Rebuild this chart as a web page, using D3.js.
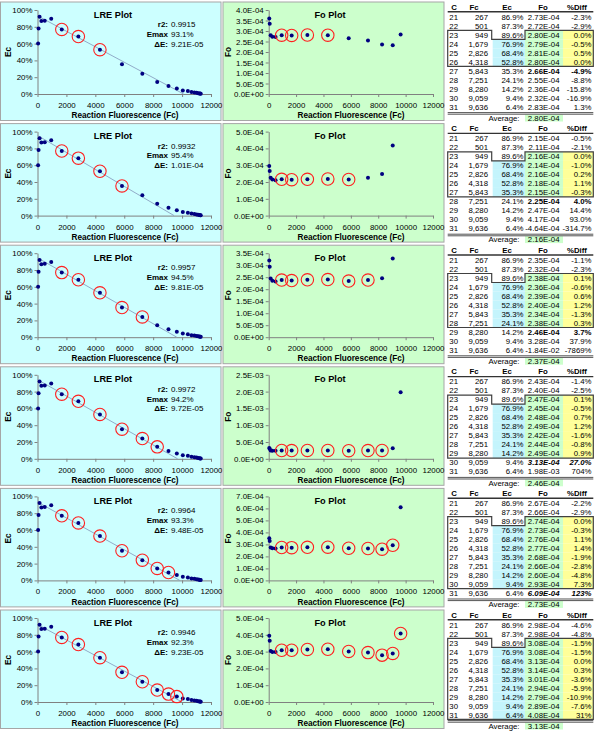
<!DOCTYPE html>
<html>
<head>
<meta charset="utf-8">
<script src="https://cdn.jsdelivr.net/npm/d3@7"></script>
<style>
  body { margin: 0; background: #fff; }
  svg { display: block; font-family: "Liberation Sans", Arial, sans-serif; }
</style>
</head>
<body>
<svg id="chart" width="600" height="733"></svg>
<script>
// cycles shown in the tables
var cycles = [21, 22, 23, 24, 25, 26, 27, 28, 29, 30, 31];
var fc = [267, 501, 949, 1679, 2826, 4318, 5843, 7251, 8280, 9059, 9636];
var ec = [0.869, 0.873, 0.896, 0.769, 0.684, 0.528, 0.353, 0.241, 0.142, 0.094, 0.064];

// cycles before 21 and after 31 (only plotted)
var fcEarly = [42, 74, 143];
var ecEarly = [0.60, 0.78, 0.92];
var fcLate = [10050, 10400, 10650, 10850, 11000, 11110, 11190, 11250, 11290];
var ecLate = [0.043, 0.035, 0.024, 0.019, 0.014, 0.010, 0.007, 0.005, 0.004];

// one entry per row of panels
var r2 = ["0.9915", "0.9932", "0.9957", "0.9972", "0.9964", "0.9946"];
var emax = [0.931, 0.954, 0.945, 0.942, 0.933, 0.923];
var deltaE = [9.21e-5, 1.01e-4, 9.81e-5, 9.72e-5, 9.48e-5, 9.23e-5];
var windowEnd = [26, 27, 28, 29, 30, 31];
var foMax = [4e-4, 5e-4, 3.5e-4, 2.5e-3, 7e-4, 5e-4];
var foStep = [5e-5, 1e-4, 5e-5, 5e-4, 1e-4, 1e-4];
var foAverage = [2.80e-4, 2.16e-4, 2.37e-4, 2.46e-4, 2.73e-4, 3.13e-4];
var italicRow = [false, false, false, true, true, false];

var foEarly = [
  [3.60e-4, 3.35e-4, 2.80e-4],
  [2.95e-4, 2.65e-4, 2.25e-4],
  [3.20e-4, 2.94e-4, 2.45e-4],
  [3.20e-4, 2.98e-4, 2.50e-4],
  [3.52e-4, 3.28e-4, 2.74e-4],
  [3.94e-4, 3.64e-4, 3.04e-4]
];

var foRows = [
  [2.73e-4, 2.72e-4, 2.80e-4, 2.79e-4, 2.81e-4, 2.80e-4, 2.66e-4, 2.55e-4, 2.36e-4, 2.32e-4, 2.83e-4],
  [2.15e-4, 2.11e-4, 2.16e-4, 2.14e-4, 2.16e-4, 2.18e-4, 2.15e-4, 2.25e-4, 2.47e-4, 4.17e-4, -4.64e-4],
  [2.35e-4, 2.32e-4, 2.38e-4, 2.36e-4, 2.39e-4, 2.40e-4, 2.34e-4, 2.38e-4, 2.46e-4, 3.28e-4, -1.84e-2],
  [2.43e-4, 2.40e-4, 2.47e-4, 2.45e-4, 2.48e-4, 2.49e-4, 2.42e-4, 2.44e-4, 2.49e-4, 3.13e-4, 1.98e-3],
  [2.67e-4, 2.66e-4, 2.74e-4, 2.73e-4, 2.76e-4, 2.77e-4, 2.68e-4, 2.66e-4, 2.60e-4, 2.93e-4, 6.09e-4],
  [2.98e-4, 2.98e-4, 3.08e-4, 3.08e-4, 3.13e-4, 3.14e-4, 3.01e-4, 2.94e-4, 2.79e-4, 2.89e-4, 4.08e-4]
];

var diffRows = [
  ["-2.3%", "-2.9%", "0.0%", "-0.5%", "0.5%", "0.0%", "-4.9%", "-8.8%", "-15.8%", "-16.9%", "1.3%"],
  ["-0.5%", "-2.1%", "0.0%", "-1.0%", "0.2%", "1.1%", "-0.3%", "4.0%", "14.4%", "93.0%", "-314.7%"],
  ["-1.1%", "-2.3%", "0.1%", "-0.6%", "0.6%", "1.2%", "-1.3%", "0.3%", "3.7%", "37.9%", "-7869%"],
  ["-1.4%", "-2.5%", "0.1%", "-0.5%", "0.7%", "1.2%", "-1.6%", "-0.8%", "0.9%", "27.0%", "704%"],
  ["-2.2%", "-2.9%", "0.0%", "-0.3%", "1.1%", "1.4%", "-1.9%", "-2.8%", "-4.8%", "7.3%", "123%"],
  ["-4.6%", "-4.8%", "-1.5%", "-1.5%", "0.0%", "0.3%", "-3.6%", "-5.9%", "-10.9%", "-7.6%", "31%"]
];

var svg = d3.select("#chart");
var rowH = 121.6;
var font = 7.9;

var lreX = d3.scaleLinear().domain([0, 12000]).range([37.5, 211]);
var foX = d3.scaleLinear().domain([0, 12000]).range([268.7, 433]);
var lreY = d3.scaleLinear().domain([0, 1]).range([94, 10]);

function sci(v, d) {
  return v.toExponential(d).toUpperCase().replace(/E([+-])(\d+)$/, function (m, s, e) {
    return "E" + s + (e.length < 2 ? "0" + e : e);
  });
}

function styleAxis(g) {
  g.selectAll("path,line").attr("stroke", "#808080");
  g.selectAll("text").attr("fill", "#000").style("font-size", font + "px")
    .style("font-family", "'Liberation Sans', Arial, sans-serif");
}

var fcAll = fcEarly.concat(fc, fcLate);
var ecAll = ecEarly.concat(ec, ecLate);

for (var k = 0; k < 6; k++) {
  drawRow(k);
}

function drawRow(k) {
  var g = svg.append("g").attr("transform", "translate(0," + (k * rowH) + ")");
  var endIdx = cycles.indexOf(windowEnd[k]);

  // ---------- LRE panel ----------
  g.append("rect").attr("x", 0.5).attr("y", 2).attr("width", 220.5).attr("height", 118.5)
    .attr("fill", "#ccffff").attr("stroke", "#a6a6a6");

  g.append("g").attr("transform", "translate(0,94)")
    .call(d3.axisBottom(lreX).tickValues(d3.range(0, 12001, 2000)).tickFormat(d3.format("d"))
      .tickSize(3).tickSizeOuter(0).tickPadding(5.5))
    .call(styleAxis);
  g.append("g").attr("transform", "translate(37.5,0)")
    .call(d3.axisLeft(lreY).tickValues(d3.range(0, 1.01, 0.2)).tickFormat(d3.format(".0%"))
      .tickSize(3).tickSizeOuter(0).tickPadding(2))
    .call(styleAxis);

  var zeroFc = emax[k] / deltaE[k];
  g.append("line")
    .attr("x1", lreX(0)).attr("y1", lreY(emax[k]))
    .attr("x2", lreX(zeroFc)).attr("y2", lreY(0))
    .attr("stroke", "#8aa2c2").attr("stroke-width", 0.9);

  g.append("g").selectAll("circle").data(d3.range(fcAll.length)).enter().append("circle")
    .attr("cx", function (i) { return lreX(fcAll[i]); })
    .attr("cy", function (i) { return lreY(ecAll[i]); })
    .attr("r", 2).attr("fill", "#000080");

  var lreWin = d3.range(cycles.indexOf(24), endIdx + 1);
  g.append("g").selectAll("circle").data(lreWin).enter().append("circle")
    .attr("cx", function (i) { return lreX(fc[i]); })
    .attr("cy", function (i) { return lreY(ec[i]); })
    .attr("r", 6.2).attr("fill", "none").attr("stroke", "#ff2020").attr("stroke-width", 1.1);

  g.append("text").attr("x", 113).attr("y", 17.5).attr("text-anchor", "middle")
    .style("font-size", "9.2px").style("font-weight", "bold").text("LRE Plot");
  g.append("text").attr("x", 125).attr("y", 118.2).attr("text-anchor", "middle")
    .style("font-size", "8.2px").style("font-weight", "bold").text("Reaction Fluorescence (Fc)");
  g.append("text").attr("transform", "translate(11,52) rotate(-90)").attr("text-anchor", "middle")
    .style("font-size", "8.2px").style("font-weight", "bold").text("Ec");

  var statLabels = ["r2:", "Emax", "\u0394E:"];
  var statValues = [r2[k], d3.format(".1%")(emax[k]), sci(deltaE[k], 2)];
  statLabels.forEach(function (s, i) {
    g.append("text").attr("x", 168).attr("y", 27 + i * 9.8).attr("text-anchor", "end")
      .style("font-size", "8px").style("font-weight", "bold").text(s);
    g.append("text").attr("x", 171).attr("y", 27 + i * 9.8)
      .style("font-size", "8px").text(statValues[i]);
  });

  // ---------- Fo panel ----------
  g.append("rect").attr("x", 223).attr("y", 2).attr("width", 221).attr("height", 118.5)
    .attr("fill", "#ccffcc").attr("stroke", "#a6a6a6");

  var foY = d3.scaleLinear().domain([0, foMax[k]]).range([94, 10]);

  g.append("g").attr("transform", "translate(0,94)")
    .call(d3.axisBottom(foX).tickValues(d3.range(0, 12001, 2000)).tickFormat(d3.format("d"))
      .tickSize(3).tickSizeOuter(0).tickPadding(5.5))
    .call(styleAxis);
  g.append("g").attr("transform", "translate(268.7,0)")
    .call(d3.axisLeft(foY).tickValues(d3.range(0, foMax[k] + foStep[k] / 2, foStep[k]))
      .tickFormat(function (v) { return sci(v, 1); })
      .tickSize(3).tickSizeOuter(0).tickPadding(2))
    .call(styleAxis);

  var foFc = fcEarly.concat(fc);
  var foVal = foEarly[k].concat(foRows[k]);
  var visible = d3.range(foFc.length).filter(function (i) {
    return foVal[i] >= 0 && foVal[i] <= foMax[k];
  });
  g.append("g").selectAll("circle").data(visible).enter().append("circle")
    .attr("cx", function (i) { return foX(foFc[i]); })
    .attr("cy", function (i) { return foY(foVal[i]); })
    .attr("r", 2).attr("fill", "#000080");

  var foWin = d3.range(cycles.indexOf(23), endIdx + 1);
  g.append("g").selectAll("circle").data(foWin).enter().append("circle")
    .attr("cx", function (i) { return foX(fc[i]); })
    .attr("cy", function (i) { return foY(foRows[k][i]); })
    .attr("r", 6.2).attr("fill", "none").attr("stroke", "#ff2020").attr("stroke-width", 1.1);

  g.append("text").attr("x", 330).attr("y", 17.5).attr("text-anchor", "middle")
    .style("font-size", "9.2px").style("font-weight", "bold").text("Fo Plot");
  g.append("text").attr("x", 351).attr("y", 118.2).attr("text-anchor", "middle")
    .style("font-size", "8.2px").style("font-weight", "bold").text("Reaction Fluorescence (Fc)");
  g.append("text").attr("transform", "translate(231,52) rotate(-90)").attr("text-anchor", "middle")
    .style("font-size", "8.2px").style("font-weight", "bold").text("Fo");

  // ---------- table ----------
  var tx = [447.7, 491.7, 525, 563, 593.3];
  var rowTop = function (i) { return 12.3 + 9 * i; };
  var base = function (i) { return 16.8 + 9 * i + 2.7; };
  var t = g.append("g").style("font-size", "7.8px");

  // highlighted cells
  t.selectAll("rect.ec").data(lreWin).enter().append("rect")
    .attr("x", tx[1] + 1).attr("y", function (i) { return rowTop(i); })
    .attr("width", tx[2] - tx[1] - 1).attr("height", 9).attr("fill", "#c4f4fc");
  t.selectAll("rect.fo").data(foWin).enter().append("rect")
    .attr("x", tx[2]).attr("y", function (i) { return rowTop(i); })
    .attr("width", tx[3] - tx[2]).attr("height", 9).attr("fill", "#ccffcc");
  t.selectAll("rect.df").data(foWin).enter().append("rect")
    .attr("x", tx[3]).attr("y", function (i) { return rowTop(i); })
    .attr("width", tx[4] - tx[3]).attr("height", 9).attr("fill", "#ffff99");
  t.append("rect").attr("x", tx[2]).attr("y", 114.5).attr("width", tx[3] - tx[2]).attr("height", 7)
    .attr("fill", "#ccffcc");

  // header
  var heads = ["C", "Fc", "Ec", "Fo", "%Diff"];
  var headX = [454, 474, 507, 543, 577];
  heads.forEach(function (h, i) {
    t.append("text").attr("x", headX[i]).attr("y", 9.5).attr("text-anchor", "middle")
      .style("font-weight", "bold").text(h);
  });
  t.append("line").attr("x1", tx[0]).attr("x2", tx[4]).attr("y1", 11.8).attr("y2", 11.8)
    .attr("stroke", "#333").attr("stroke-width", 1.4);

  var boldIdx = endIdx + 1;
  cycles.forEach(function (c, i) {
    t.append("text").attr("x", 449.3).attr("y", base(i)).text(c);
    t.append("text").attr("x", 488).attr("y", base(i)).attr("text-anchor", "end").text(d3.format(",")(fc[i]));
    t.append("text").attr("x", 523.5).attr("y", base(i)).attr("text-anchor", "end").text(d3.format(".1%")(ec[i]));
    var fo = t.append("text").attr("x", 559.5).attr("y", base(i)).attr("text-anchor", "end").text(sci(foRows[k][i], 2));
    var df = t.append("text").attr("x", 591.5).attr("y", base(i)).attr("text-anchor", "end").text(diffRows[k][i]);
    if (i === boldIdx) {
      fo.style("font-weight", "bold");
      df.style("font-weight", "bold");
      if (italicRow[k]) {
        fo.style("font-style", "italic");
        df.style("font-style", "italic");
      }
    }
  });

  // window outline with the notch around Ec of cycle 23
  var i23 = cycles.indexOf(23);
  var yb = rowTop(endIdx + 1);
  var pts = [[tx[0], rowTop(i23)], [tx[1], rowTop(i23)], [tx[1], rowTop(i23 + 1)], [tx[2], rowTop(i23 + 1)],
             [tx[2], rowTop(i23)], [tx[4], rowTop(i23)], [tx[4], yb], [tx[0], yb]];
  t.append("polygon").attr("points", pts.map(function (p) { return p.join(","); }).join(" "))
    .attr("fill", "none").attr("stroke", "#404040").attr("stroke-width", 1.2);

  // bottom double rule + average
  t.append("line").attr("x1", tx[0]).attr("x2", tx[4]).attr("y1", 112.6).attr("y2", 112.6)
    .attr("stroke", "#555").attr("stroke-width", 1);
  t.append("line").attr("x1", tx[0]).attr("x2", tx[4]).attr("y1", 114.2).attr("y2", 114.2)
    .attr("stroke", "#555").attr("stroke-width", 1);
  t.append("text").attr("x", 519.5).attr("y", 120.8).attr("text-anchor", "end").text("Average:");
  t.append("text").attr("x", 559.5).attr("y", 120.8).attr("text-anchor", "end").text(sci(foAverage[k], 2));
}
</script>
</body>
</html>
